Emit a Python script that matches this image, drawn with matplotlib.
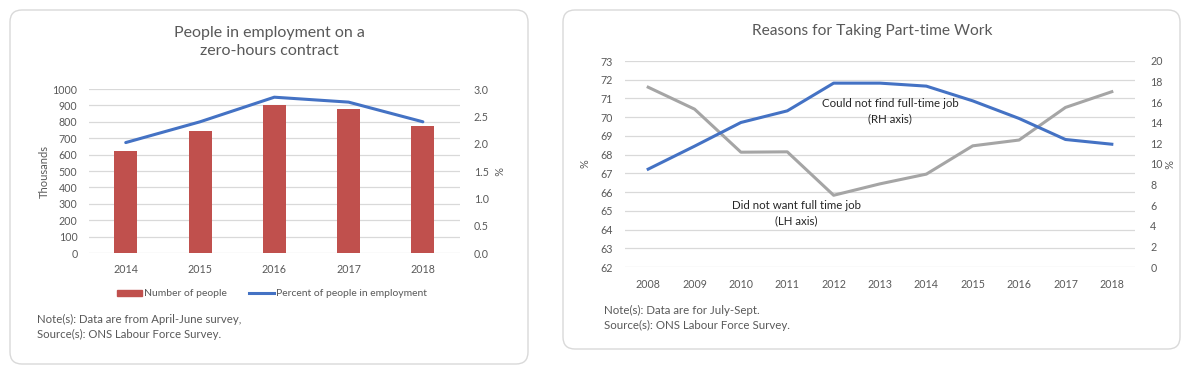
import numpy as np
import matplotlib
matplotlib.use("Agg")
import matplotlib.pyplot as plt
from matplotlib.patches import FancyBboxPatch, Patch
from matplotlib.lines import Line2D

plt.rcParams['font.family'] = ['Lato', 'DejaVu Sans']

# left chart data
zh_years = ['2014', '2015', '2016', '2017', '2018']
zh_people = [620, 743, 900, 878, 776]          # thousands
zh_percent = [2.02, 2.40, 2.85, 2.76, 2.40]    # % of people in employment

# right chart data
pt_years = ['2008', '2009', '2010', '2011', '2012', '2013',
            '2014', '2015', '2016', '2017', '2018']
pt_not_want = [71.6, 70.43, 68.13, 68.15, 65.83, 66.44,
               66.96, 68.47, 68.78, 70.52, 71.36]      # LH axis
pt_could_not = [9.5, 11.73, 14.03, 15.16, 17.85, 17.85,
                17.56, 16.13, 14.42, 12.38, 11.92]     # RH axis

RED = '#C0504D'
BLUE = '#4472C4'
GREY = '#A5A5A5'
TXT = '#595959'
GRID = '#D9D9D9'

W, H = 1185, 370
fig = plt.figure(figsize=(W / 100, H / 100), dpi=100)


def fx(px):
    return px / W


def fy(py):
    return 1 - py / H


# panel frames (inches), drawn below the axes
for x0, y0, x1, y1 in [(10, 10, 528, 364), (563, 10, 1180, 349)]:
    box = FancyBboxPatch((x0 / 100, (H - y1) / 100), (x1 - x0) / 100, (y1 - y0) / 100,
                         boxstyle='round,pad=0,rounding_size=0.12',
                         transform=fig.dpi_scale_trans, fc='white', ec=GRID, lw=1.0,
                         zorder=-5)
    fig.patches.append(box)


def style(ax):
    for s in ax.spines.values():
        s.set_visible(False)
    ax.tick_params(length=0, labelsize=7.7, colors=TXT)
    ax.patch.set_alpha(0)


# ---- left chart ----
ax1 = fig.add_axes([fx(88.6), fy(253), fx(460 - 88.6), (253 - 89) / H])
xs = np.arange(len(zh_years))
ax1.bar(xs, zh_people, width=0.31, color=RED, zorder=2)
ax1.set_xlim(-0.5, len(zh_years) - 0.5)
ax1.set_ylim(0, 1000)
ax1.set_yticks(np.arange(0, 1001, 100))
ax1.set_xticks(xs)
ax1.set_xticklabels(zh_years)
ax1.yaxis.grid(True, color=GRID, lw=0.9, zorder=0)
ax1.set_axisbelow(True)
style(ax1)
ax1.tick_params(axis='y', pad=8)
ax1.tick_params(axis='x', pad=8)
ax1.set_ylabel('Thousands', fontsize=8, color=TXT, labelpad=2)

ax1r = ax1.twinx()
ax1r.plot(xs, zh_percent, color=BLUE, lw=2.2, solid_capstyle='round', zorder=3)
ax1r.set_ylim(0, 3.0)
ax1r.set_yticks(np.arange(0, 3.01, 0.5))
ax1r.set_yticklabels([f'{v:.1f}' for v in np.arange(0, 3.01, 0.5)])
style(ax1r)
ax1r.tick_params(axis='y', pad=10)
ax1r.set_ylabel('%', fontsize=7.8, color=TXT, rotation=270, labelpad=10)

fig.text(fx(269), fy(42), 'People in employment on a\nzero-hours contract', ha='center', va='center',
         fontsize=11.5, color=TXT, linespacing=1.4)

handles = [Patch(color=RED), Line2D([0], [0], color=BLUE, lw=2.2)]
fig.legend(handles, ['Number of people', 'Percent of people in employment'],
           loc='center', bbox_to_anchor=(fx(272), fy(294)), ncol=2, frameon=False,
           fontsize=7.5, labelcolor=TXT, handlelength=2.4, handleheight=0.6,
           handletextpad=0.2, columnspacing=2.2)

fig.text(fx(37), fy(319), 'Note(s): Data are from April-June survey,', fontsize=8.2, color=TXT, va='center')
fig.text(fx(37), fy(334), 'Source(s): ONS Labour Force Survey.', fontsize=8.2, color=TXT, va='center')

# ---- right chart ----
ax2 = fig.add_axes([fx(625), fy(267), fx(1135 - 625), (267 - 61) / H])
xs2 = np.arange(len(pt_years))
ax2.plot(xs2, pt_not_want, color=GREY, lw=2.2, zorder=3)
ax2.set_xlim(-0.5, len(pt_years) - 0.5)
ax2.set_ylim(62, 73)
ax2.set_yticks(np.arange(62, 74, 1))
ax2.set_xticks(xs2)
ax2.set_xticklabels(pt_years)
ax2.yaxis.grid(True, color=GRID, lw=0.9, zorder=0)
ax2.set_axisbelow(True)
style(ax2)
ax2.tick_params(axis='y', pad=9)
ax2.tick_params(axis='x', pad=9)
ax2.set_ylabel('%', fontsize=7.8, color=TXT, labelpad=7)

ax2r = ax2.twinx()
ax2r.plot(xs2, pt_could_not, color=BLUE, lw=2.2, zorder=4)
ax2r.set_ylim(0, 20)
ax2r.set_yticks(np.arange(0, 21, 2))
style(ax2r)
ax2r.tick_params(axis='y', pad=11)
ax2r.set_ylabel('%', fontsize=7.8, color=TXT, rotation=270, labelpad=7)

fig.text(fx(872), fy(31), 'Reasons for Taking Part-time Work', ha='center', va='center',
         fontsize=11.2, color=TXT)
fig.text(fx(890), fy(111), 'Could not find full-time job\n(RH axis)', ha='center', va='center',
         fontsize=8.3, color='#262626', linespacing=1.45)
fig.text(fx(796), fy(213), 'Did not want full time job\n(LH axis)', ha='center', va='center',
         fontsize=8.3, color='#262626', linespacing=1.45)

fig.text(fx(604), fy(310), 'Note(s): Data are for July-Sept.', fontsize=8.3, color=TXT, va='center')
fig.text(fx(604), fy(325), 'Source(s): ONS Labour Force Survey.', fontsize=8.3, color=TXT, va='center')

fig.savefig('out.png', dpi=100)
plt.close(fig)
